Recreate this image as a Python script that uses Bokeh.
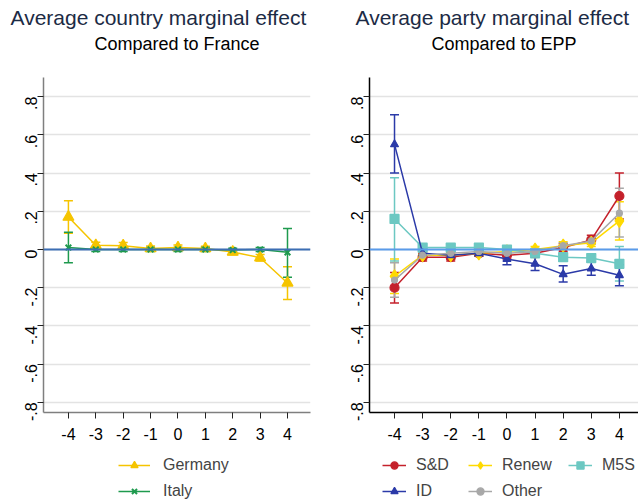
import math
from bokeh.plotting import figure
from bokeh.models import (ColumnDataSource, Whisker, TeeHead, Title, Legend, LegendItem,
                          Span, FixedTicker, Range1d)
from bokeh.layouts import row, column
from bokeh.embed import file_html
from bokeh.resources import INLINE

x_vals = [-4, -3, -2, -1, 0, 1, 2, 3, 4]
x_tick_labels = ["-4", "-3", "-2", "-1", "0", "1", "2", "3", "4"]
y_ticks = [-0.8, -0.6, -0.4, -0.2, 0, 0.2, 0.4, 0.6, 0.8]
y_tick_labels = ["-.8", "-.6", "-.4", "-.2", "0", ".2", ".4", ".6", ".8"]

# Left panel: country effects (vs France)
germany = [0.17, 0.022, 0.02, 0.005, 0.01, 0.005, -0.013, -0.043, -0.175]
germany_lo = [0.085, 0.005, 0.003, -0.008, -0.004, -0.007, -0.027, -0.06, -0.262]
germany_hi = [0.255, 0.038, 0.036, 0.018, 0.024, 0.017, 0.0, -0.026, -0.09]
italy = [0.01, 0.0, 0.0, 0.0, 0.0, 0.0, -0.003, 0.0, -0.015]
italy_lo = [-0.07, -0.01, -0.01, -0.01, -0.01, -0.01, -0.012, -0.01, -0.145]
italy_hi = [0.09, 0.01, 0.01, 0.01, 0.01, 0.01, 0.006, 0.01, 0.11]

# Right panel: party effects (vs EPP)
sd = [-0.20, -0.04, -0.04, -0.02, -0.03, -0.02, 0.01, 0.05, 0.28]
sd_lo = [-0.28, -0.06, -0.06, -0.035, -0.05, -0.04, -0.01, 0.03, 0.16]
sd_hi = [-0.12, -0.02, -0.02, -0.005, -0.01, 0.0, 0.03, 0.075, 0.40]
renew = [-0.14, -0.03, -0.03, -0.02, -0.01, 0.0, 0.02, 0.035, 0.15]
renew_lo = [-0.23, -0.045, -0.045, -0.035, -0.025, -0.015, 0.0, 0.015, 0.05]
renew_hi = [-0.05, -0.015, -0.015, -0.005, 0.005, 0.015, 0.04, 0.055, 0.25]
m5s = [0.16, 0.01, 0.01, 0.01, 0.0, -0.02, -0.04, -0.045, -0.075]
m5s_lo = [-0.06, -0.005, -0.005, -0.005, -0.015, -0.04, -0.06, -0.065, -0.165]
m5s_hi = [0.375, 0.025, 0.025, 0.025, 0.015, 0.0, -0.02, -0.025, 0.015]
id_ = [0.55, -0.02, -0.03, -0.02, -0.05, -0.075, -0.13, -0.10, -0.135]
id_lo = [0.40, -0.04, -0.05, -0.035, -0.08, -0.11, -0.17, -0.135, -0.19]
id_hi = [0.705, 0.0, -0.01, -0.005, -0.02, -0.04, -0.085, -0.065, -0.08]
other = [-0.16, -0.03, -0.02, -0.01, -0.02, -0.01, 0.02, 0.045, 0.19]
other_lo = [-0.25, -0.045, -0.035, -0.025, -0.035, -0.025, 0.005, 0.03, 0.065]
other_hi = [-0.07, -0.015, -0.005, 0.005, -0.005, 0.005, 0.035, 0.06, 0.32]

FONT = "Liberation Sans"
TITLE_COLOR = "#1C2B45"
C_GER, C_ITA = "#F5C400", "#1E9A4E"
C_SD, C_RENEW, C_M5S, C_ID, C_OTH = "#C4212B", "#FFDA00", "#6CC8C2", "#2B3AA8", "#A8A8A8"


def make_fig(xr, left_border, right_border, axis_color):
    p = figure(width=319, height=452, output_backend="svg", toolbar_location=None,
               title=None, x_range=Range1d(*xr), y_range=Range1d(-0.853, 0.9),
               min_border_left=left_border, min_border_right=right_border,
               min_border_top=77, min_border_bottom=40)
    p.outline_line_color = None
    p.xgrid.grid_line_color = None
    p.ygrid.grid_line_color = "#E3E3E3"
    p.ygrid.grid_line_width = 1.5
    p.ygrid.ticker = FixedTicker(ticks=y_ticks)
    p.yaxis.ticker = FixedTicker(ticks=y_ticks)
    p.yaxis.major_label_overrides = {t: l for t, l in zip(y_ticks, y_tick_labels)}
    p.yaxis.major_label_orientation = math.pi / 2
    p.xaxis.ticker = FixedTicker(ticks=x_vals)
    p.xaxis.major_label_overrides = {t: l for t, l in zip(x_vals, x_tick_labels)}
    for ax in (p.xaxis, p.yaxis):
        ax.minor_tick_line_color = None
        ax.major_tick_out = 6
        ax.major_tick_in = 0
        ax.major_tick_line_color = "#222222"
        ax.axis_line_color = axis_color
        ax.axis_line_width = 1.5
        ax.major_label_text_font = FONT
        ax.major_label_text_font_size = "16px"
        ax.major_label_text_color = "black"
    p.xaxis.major_label_standoff = 9
    p.yaxis.major_label_standoff = 6
    return p


def add_titles(p, title, subtitle, offset):
    sub = Title(text=subtitle, align="center", text_font=FONT, text_font_size="18px",
                text_font_style="normal", text_color="black", standoff=47)
    p.add_layout(sub, "above")
    main = Title(text=title, align="left", offset=offset, text_font=FONT,
                 text_font_size="21px", text_font_style="normal", text_color=TITLE_COLOR,
                 standoff=-41)
    p.add_layout(main, "above")


def add_series(p, y, lo, hi, color, marker, size, lw=1.5):
    src = ColumnDataSource(dict(x=x_vals, y=y, lo=lo, hi=hi))
    w = Whisker(source=src, base="x", upper="hi", lower="lo", line_color=color, line_width=lw,
                upper_head=TeeHead(size=9, line_color=color, line_width=lw),
                lower_head=TeeHead(size=9, line_color=color, line_width=lw))
    p.add_layout(w)
    p.line("x", "y", source=src, line_color=color, line_width=lw)
    p.scatter("x", "y", source=src, marker=marker, size=size, fill_color=color,
              line_color=color, line_width=1.2 if marker != "x" else 2)


def legend_fig():
    # Key-only canvas: its ranges lie far away from the data, so only the keys show.
    lf = figure(width=319, height=50, output_backend="svg", toolbar_location=None,
                title=None, x_axis_type=None, y_axis_type=None, min_border=0,
                x_range=Range1d(100, 101), y_range=Range1d(100, 101))
    lf.outline_line_color = None
    lf.grid.visible = False
    return lf


def key_item(lf, label, y, color, marker, size):
    src = ColumnDataSource(dict(x=x_vals, y=y))
    ln = lf.line("x", "y", source=src, line_color=color, line_width=1.5)
    sc = lf.scatter("x", "y", source=src, marker=marker, size=size, fill_color=color,
                    line_color=color, line_width=1.2 if marker != "x" else 2)
    return LegendItem(label=label, renderers=[ln, sc])


def make_legend(items, loc, glyph_w, standoff):
    return Legend(items=items, location=loc, orientation="vertical", border_line_color=None,
                  background_fill_alpha=0, label_text_font=FONT, label_text_font_size="16px",
                  glyph_width=glyph_w, glyph_height=18, label_height=18, spacing=8,
                  label_standoff=standoff, margin=0, padding=0)


# Left figure
p1 = make_fig((-4.91, 4.84), 43, 9, "#7F7F7F")
add_titles(p1, "Average country marginal effect", "Compared to France", -33)
p1.add_layout(Span(location=0, dimension="width", line_color="#3C6EB4", line_width=2.2))
add_series(p1, germany, germany_lo, germany_hi, C_GER, "triangle", 11)
add_series(p1, italy, italy_lo, italy_hi, C_ITA, "x", 8)

l1 = legend_fig()
l1.add_layout(make_legend([key_item(l1, "Germany", germany, C_GER, "triangle", 8),
                           key_item(l1, "Italy", italy, C_ITA, "x", 6)], (118, 2), 32, 13))

# Right figure
p2 = make_fig((-4.89, 4.68), 50, 0, "black")
add_titles(p2, "Average party marginal effect", "Compared to EPP", -14)
p2.add_layout(Span(location=0, dimension="width", line_color="#5A9BEA", line_width=2.2))
add_series(p2, sd, sd_lo, sd_hi, C_SD, "circle", 9)
add_series(p2, renew, renew_lo, renew_hi, C_RENEW, "diamond", 13)
add_series(p2, m5s, m5s_lo, m5s_hi, C_M5S, "square", 9)
add_series(p2, id_, id_lo, id_hi, C_ID, "triangle", 8)
add_series(p2, other, other_lo, other_hi, C_OTH, "circle", 6)

l2 = legend_fig()
l2.add_layout(make_legend([key_item(l2, "S&D", sd, C_SD, "circle", 6),
                           key_item(l2, "ID", id_, C_ID, "triangle", 5)], (63, 2), 24, 10))
l2.add_layout(make_legend([key_item(l2, "Renew", renew, C_RENEW, "diamond", 10),
                           key_item(l2, "Other", other, C_OTH, "circle", 5)], (149, 2), 24, 10))
l2.add_layout(make_legend([key_item(l2, "M5S", m5s, C_M5S, "square", 8)], (249, 28), 24, 10))

layout = column(row(p1, p2, spacing=0), row(l1, l2, spacing=0), spacing=0)
open("out.html", "w").write(file_html(layout, INLINE))
